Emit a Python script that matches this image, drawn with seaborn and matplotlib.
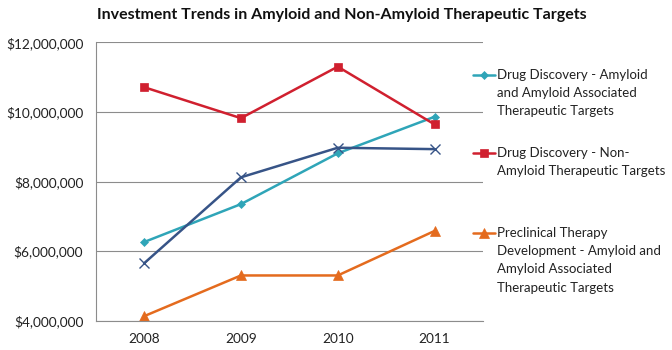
import matplotlib
matplotlib.use("Agg")
import matplotlib.pyplot as plt
import seaborn as sns
import pandas as pd
import numpy as np
from matplotlib.ticker import FuncFormatter, FixedLocator

years = ["2008", "2009", "2010", "2011"]
amyloid_dd = [6260000, 7350000, 8810000, 9860000]
non_amyloid_dd = [10710000, 9820000, 11300000, 9640000]
unlabeled = [5650000, 8120000, 8970000, 8930000]
preclinical = [4130000, 5300000, 5300000, 6580000]

labels = [
    "Drug Discovery - Amyloid\nand Amyloid Associated\nTherapeutic Targets",
    "Drug Discovery - Non-\nAmyloid Therapeutic Targets",
    "Preclinical Therapy\nDevelopment - Amyloid and\nAmyloid Associated\nTherapeutic Targets",
]
y_ticks = [4000000, 6000000, 8000000, 10000000, 12000000]

sns.set_style("white")
plt.rcParams["font.family"] = ["Lato", "DejaVu Sans"]

fig = plt.figure(figsize=(6.72, 3.5), dpi=100)
ax = fig.add_axes([95.7 / 672, 1 - 320.7 / 350, (483 - 95.7) / 672, (320.7 - 42.3) / 350])

x = np.arange(len(years))
series = [
    (amyloid_dd, "#2FA5B8", "D", 4.5, labels[0]),
    (non_amyloid_dd, "#D0202F", "s", 6, labels[1]),
    (unlabeled, "#375487", "x", 6.5, None),
    (preclinical, "#E46B1E", "^", 6.5, labels[2]),
]
lines = {}
for vals, color, marker, ms, lab in series:
    df = pd.DataFrame({"x": x, "y": vals})
    sns.lineplot(data=df, x="x", y="y", ax=ax, color=color, marker=marker,
                 markersize=ms, linewidth=1.8, markeredgecolor=color,
                 markeredgewidth=1.0 if marker == "x" else 0.5, legend=False)
    if lab is not None:
        lines[lab] = ax.get_lines()[-1]

ax.set_xlim(-0.5, 3.5)
ax.set_ylim(4000000, 12000000)
ax.set_yticks(y_ticks)
ax.yaxis.set_major_formatter(FuncFormatter(lambda v, p: "${:,.0f}".format(v)))
ax.set_xticks(x)
ax.set_xticklabels(years)
ax.xaxis.set_minor_locator(FixedLocator([0.5, 1.5, 2.5, 3.5]))
ax.tick_params(axis="x", which="major", length=0, pad=9, labelsize=9.8, colors="#222222")
ax.tick_params(axis="x", which="minor", length=5, width=0.8, color="#8c8c8c", direction="out")
ax.tick_params(axis="y", length=5, width=0.8, color="#8c8c8c", direction="out",
               labelsize=9.8, labelcolor="#222222", pad=4)
ax.set_xlabel("")
ax.set_ylabel("")
ax.grid(axis="y", color="#8c8c8c", linewidth=0.8)
ax.set_axisbelow(True)
for s in ["top", "right"]:
    ax.spines[s].set_visible(False)
for s in ["left", "bottom"]:
    ax.spines[s].set_color("#8c8c8c")
    ax.spines[s].set_linewidth(0.8)

fig.text(342 / 672, 1 - 15 / 350, "Investment Trends in Amyloid and Non-Amyloid Therapeutic Targets",
         ha="center", va="center", fontsize=11.5, fontweight="bold", color="#111111")

# legends: one per entry
tops = [69, 147, 227]
nlines = [3, 2, 4]
line_px = 18.5
fs = 9.5
for i, lab in enumerate(labels):
    h = lines[lab]
    leg = fig.legend([h], [lab], loc="upper left",
                     bbox_to_anchor=(473 / 672, 1 - tops[i] / 350),
                     frameon=False, fontsize=fs, handlelength=1.7, handletextpad=0.1,
                     borderpad=0, borderaxespad=0, labelspacing=0)
    for t in leg.get_texts():
        t.set_linespacing(1.62)
        t.set_color("#222222")
    shift_pt = (nlines[i] - 1) / 2 * line_px * 72 / 100
    for lh in leg.legend_handles:
        yd = np.asarray(lh.get_ydata(), dtype=float)
        lh.set_ydata(yd + shift_pt)

fig.savefig("out.png", dpi=100)
